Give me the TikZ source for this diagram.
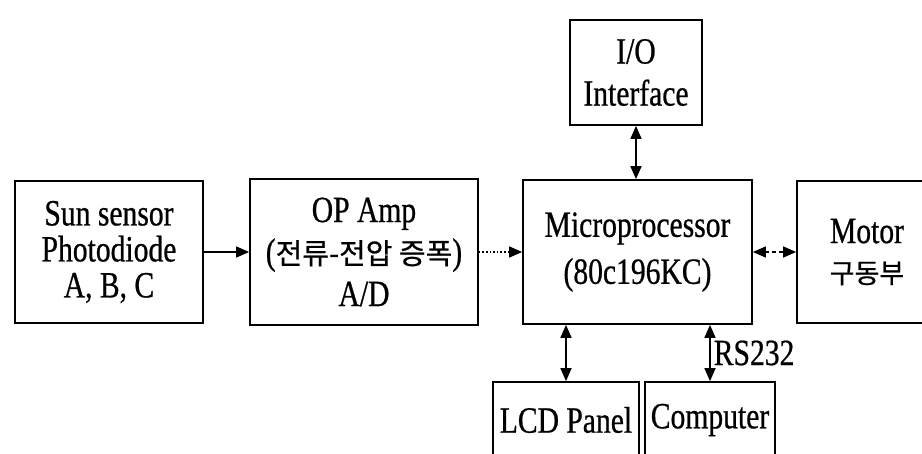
\documentclass[tikz,border=0pt]{standalone}
\usepackage{fontspec}
\setmainfont[FakeStretch=0.8,FakeBold=0.6]{Liberation Serif}
\newfontfamily\cjk[FakeBold=0.6]{Noto Sans CJK KR}
\usetikzlibrary{arrows.meta}
\begin{document}
\begin{tikzpicture}[x=1pt,y=-1pt,
  box/.style={draw, line width=1.7pt, inner sep=0pt, align=center},
  txt/.style={font=\fontsize{37}{#1}\selectfont},
  link/.style={line width=1.6pt},
  tipa/.tip={Triangle[length=13pt,width=11pt]},
  one/.style={link,-tipa},
  two/.style={link,tipa-tipa}]
\useasboundingbox (0,0) rectangle (922,453);
\fill[white] (0,0) rectangle (922,453);
\node[box, txt=36, minimum width=188pt, minimum height=142pt] (sun) at (109,252)
  {Sun sensor\\Photodiode\\A, B, C};
\node[box, txt=42, minimum width=228pt, minimum height=146pt] (opamp) at (364,252)
  {OP Amp\\({\cjk\fontsize{29}{42}\selectfont 전류-전압 증폭})\\A/D};
\node[box, txt=47, minimum width=229pt, minimum height=144pt] (micro) at (637.5,252)
  {Microprocessor\\(80c196KC)};
\node[box, txt=42, minimum width=132pt, minimum height=105pt] (io) at (636,72.5)
  {I/O\\Interface};
\node[box, txt=40, minimum width=140pt, minimum height=142pt] (motor) at (867,252)
  {Motor\\{\cjk\fontsize{27}{40}\selectfont 구동부}};
\node[box, txt=40, minimum width=146pt, minimum height=76pt] (lcd) at (566,420)
  {LCD Panel};
\node[box, txt=40, minimum width=130pt, minimum height=76pt] (comp) at (710,420)
  {Computer};
\draw[one] (sun.east) -- (opamp.west);
\draw[one, dotted] (opamp.east) -- (micro.west);
\draw[two, dash pattern=on 4pt off 3pt] (micro.east) -- (motor.west);
\draw[two] (io.south) -- (io.south |- micro.north);
\draw[two] (lcd.north) -- (lcd.north |- micro.south);
\draw[two] (comp.north) -- (comp.north |- micro.south)
  node[midway, right=3pt, txt=40, inner sep=0pt] (rs) {RS232};
\end{tikzpicture}
\end{document}
